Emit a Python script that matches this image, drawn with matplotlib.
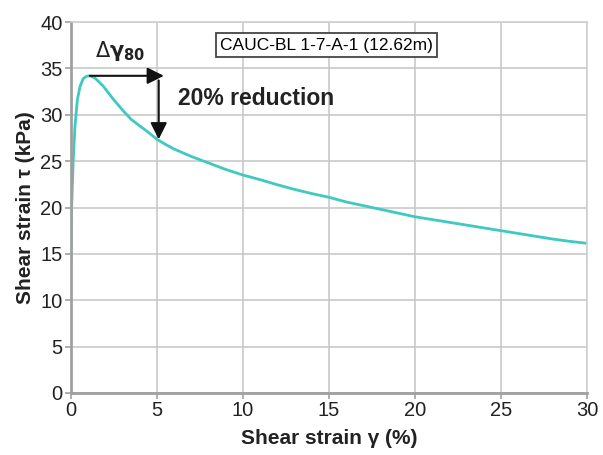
import numpy as np
import matplotlib.pyplot as plt

plt.rcParams['font.family'] = ['Liberation Sans', 'DejaVu Sans']

# curva tensao x deformacao
deformacao = [0.0, 0.04, 0.13, 0.23, 0.37, 0.52, 0.71, 0.9, 1.1, 1.4, 1.87, 2.45, 3.0,
              3.5, 4.0, 4.5, 5.0, 5.5, 6.0, 7.0, 8.0, 9.0, 10.0, 11.0, 12.0, 13.0, 14.0,
              15.0, 16.0, 17.0, 18.0, 19.0, 20.0, 21.0, 22.0, 23.0, 24.0, 25.0, 26.0,
              27.0, 28.0, 29.0, 30.0]
tensao = [14.6, 20.1, 25.1, 28.7, 31.6, 33.0, 33.9, 34.15, 34.2, 33.95, 33.1, 31.7, 30.5,
          29.5, 28.8, 28.1, 27.35, 26.8, 26.3, 25.5, 24.8, 24.1, 23.5, 23.0, 22.45, 21.95,
          21.5, 21.1, 20.6, 20.2, 19.8, 19.4, 19.0, 18.7, 18.4, 18.1, 17.8, 17.5, 17.2,
          16.9, 16.6, 16.35, 16.14]

pico_x, pico_y = 1.1, 34.2
reducao_x, reducao_y = 5.1, 27.35
xticks = [0, 5, 10, 15, 20, 25, 30]
yticks = [0, 5, 10, 15, 20, 25, 30, 35, 40]

fig = plt.figure(figsize=(6.03, 4.55), dpi=100)
ax = fig.add_axes([0.1177, 0.1363, 0.8558, 0.8153])

ax.plot(deformacao, tensao, color='#3ec9c1', linewidth=2)

# setas: deslocamento horizontal e queda de 20%
ax.annotate('', xy=(5.4, pico_y), xytext=(pico_x, pico_y),
            arrowprops=dict(arrowstyle='-|>', color='#111111', lw=1.5,
                            mutation_scale=25, shrinkA=0, shrinkB=0))
ax.annotate('', xy=(reducao_x, reducao_y), xytext=(reducao_x, 33.7),
            arrowprops=dict(arrowstyle='-|>', color='#111111', lw=1.5,
                            mutation_scale=25, shrinkA=0, shrinkB=0))
ax.text(1.4, 36.2, r'$\Delta\mathbf{\gamma_{80}}$', fontsize=15, color='#222222')
ax.text(6.2, 31.0, '20% reduction', fontsize=16.5, fontweight='bold', color='#222222')
ax.text(14.85, 37.5, 'CAUC-BL 1-7-A-1 (12.62m)', fontsize=12.5, ha='center', va='center',
        bbox=dict(boxstyle='square,pad=0.25', facecolor='white', edgecolor='#444444', lw=1.3))

ax.set_xlim(0, 30)
ax.set_ylim(0, 40)
ax.set_xticks(xticks)
ax.set_yticks(yticks)
ax.grid(True, color='#c9c9c9', linewidth=1.2)
ax.set_axisbelow(True)
for lado in ['top', 'right']:
    ax.spines[lado].set_color('#cfcfcf')
    ax.spines[lado].set_linewidth(1.2)
for lado in ['left', 'bottom']:
    ax.spines[lado].set_color('#a0a0a0')
    ax.spines[lado].set_linewidth(2)
ax.tick_params(colors='#a0a0a0', labelcolor='#222222', labelsize=14.5, length=4, width=1.2, pad=2)

ax.set_xlabel('Shear strain γ (%)', fontsize=15, fontweight='bold', color='#222222', labelpad=6)
ax.set_ylabel('Shear strain τ (kPa)', fontsize=15, fontweight='bold', color='#222222', labelpad=4)

fig.savefig('out.png', dpi=100)
